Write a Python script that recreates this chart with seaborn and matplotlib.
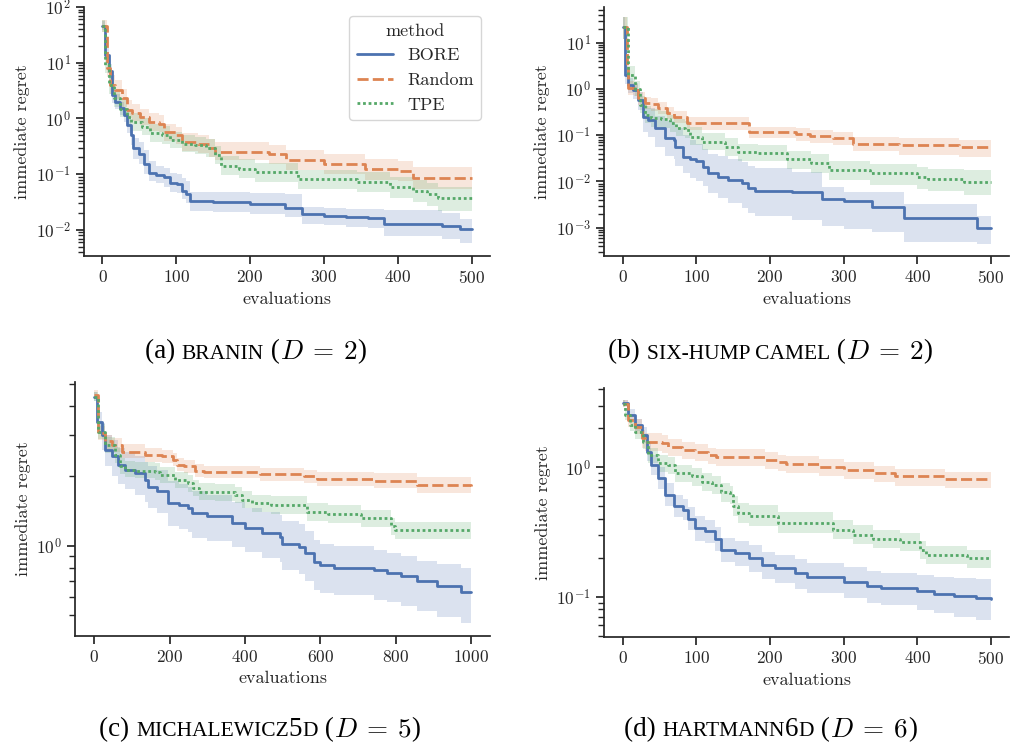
import numpy as np
import pandas as pd
import matplotlib
matplotlib.use("Agg")
import matplotlib.pyplot as plt
import seaborn as sns
from matplotlib.ticker import NullFormatter
from matplotlib.offsetbox import TextArea, HPacker, AnnotationBbox

METHODS = ["BORE", "Random", "TPE"]

# ---- (a) Branin ----
a_bore_x = [0, 4, 8.6, 13, 17.6, 24, 29, 33, 38, 42, 49, 56, 63, 72, 83, 92, 101, 108, 113, 118, 150, 200, 247, 270, 300, 330, 360, 382, 460, 484, 500]
a_bore_y = [45, 14, 7.0, 2.6, 2.0, 1.52, 1.15, 0.76, 0.50, 0.29, 0.23, 0.153, 0.105, 0.095, 0.089, 0.069, 0.067, 0.050, 0.044, 0.033, 0.032, 0.029, 0.0245, 0.019, 0.018, 0.017, 0.0164, 0.013, 0.0116, 0.0104, 0.0104]
a_bore_lo = [38, 11, 5, 1.9, 1.5, 1.15, 0.85, 0.55, 0.33, 0.19, 0.15, 0.10, 0.075, 0.068, 0.06, 0.048, 0.045, 0.036, 0.031, 0.022, 0.021, 0.019, 0.017, 0.0125, 0.012, 0.0115, 0.011, 0.0078, 0.007, 0.0058, 0.0058]
a_bore_hi = [55, 18, 9.5, 3.6, 2.7, 2.0, 1.5, 1.05, 0.72, 0.45, 0.38, 0.27, 0.17, 0.14, 0.13, 0.105, 0.10, 0.085, 0.075, 0.048, 0.047, 0.046, 0.044, 0.026, 0.025, 0.024, 0.0235, 0.023, 0.02, 0.016, 0.016]

a_rand_x = [0, 6.4, 10.8, 17.6, 26.6, 33.4, 40, 51.5, 62.8, 76, 83, 99, 108, 130, 144, 153, 225, 248, 300, 355, 400, 420, 500]
a_rand_y = [45, 8, 4, 3.2, 2.3, 1.4, 1.23, 1.07, 0.87, 0.81, 0.56, 0.50, 0.38, 0.35, 0.29, 0.255, 0.23, 0.18, 0.153, 0.125, 0.116, 0.085, 0.085]
a_rand_lo = [35, 5.5, 2.8, 2.2, 1.6, 1.0, 0.9, 0.75, 0.6, 0.57, 0.4, 0.35, 0.26, 0.24, 0.2, 0.18, 0.155, 0.12, 0.1, 0.08, 0.075, 0.054, 0.054]
a_rand_hi = [58, 12, 6, 4.8, 3.4, 2.1, 1.8, 1.5, 1.25, 1.15, 0.8, 0.7, 0.55, 0.5, 0.42, 0.38, 0.34, 0.27, 0.23, 0.19, 0.175, 0.133, 0.133]

a_tpe_x = [0, 4, 8.6, 15, 24, 33.4, 38, 53.8, 65, 81, 92, 108, 126, 140, 153, 160, 185, 207, 265, 345, 390, 420, 440, 455, 500]
a_tpe_y = [45, 9.2, 4, 2.3, 1.5, 1.07, 0.87, 0.71, 0.54, 0.50, 0.41, 0.35, 0.33, 0.29, 0.22, 0.14, 0.125, 0.108, 0.082, 0.073, 0.058, 0.050, 0.044, 0.037, 0.037]
a_tpe_lo = [35, 6.5, 2.8, 1.6, 1.05, 0.75, 0.6, 0.5, 0.38, 0.35, 0.29, 0.25, 0.23, 0.2, 0.15, 0.095, 0.085, 0.072, 0.055, 0.048, 0.037, 0.032, 0.027, 0.022, 0.022]
a_tpe_hi = [58, 13, 5.8, 3.3, 2.1, 1.5, 1.25, 1.0, 0.78, 0.72, 0.58, 0.5, 0.47, 0.42, 0.32, 0.21, 0.185, 0.16, 0.12, 0.108, 0.088, 0.077, 0.068, 0.058, 0.058]

# ---- (b) Six-hump camel ----
b_bore_x = [0, 3, 7.6, 14, 21, 28, 35, 44, 57, 69, 71, 82, 91, 100, 109, 116, 130, 143, 162, 170, 180, 230, 270, 300, 338, 382, 481, 500]
b_bore_y = [22, 2.0, 1.2, 0.95, 0.58, 0.25, 0.21, 0.14, 0.086, 0.079, 0.056, 0.034, 0.030, 0.027, 0.021, 0.015, 0.0126, 0.0107, 0.0091, 0.0071, 0.0062, 0.0059, 0.0042, 0.0037, 0.0028, 0.0016, 0.001, 0.001]
b_bore_lo = [12, 1.3, 0.8, 0.6, 0.35, 0.12, 0.09, 0.055, 0.035, 0.03, 0.022, 0.015, 0.012, 0.01, 0.008, 0.0055, 0.0045, 0.0035, 0.0027, 0.0021, 0.0018, 0.0015, 0.0011, 0.00095, 0.0008, 0.0005, 0.00045, 0.00045]
b_bore_hi = [35, 3.2, 1.7, 1.35, 0.85, 0.42, 0.38, 0.26, 0.2, 0.18, 0.14, 0.1, 0.08, 0.066, 0.05, 0.04, 0.035, 0.03, 0.026, 0.022, 0.02, 0.016, 0.0075, 0.006, 0.006, 0.0032, 0.0018, 0.0018]

b_rand_x = [0, 5.4, 7.6, 16, 21, 30, 38, 48, 60, 69, 87, 171, 235, 254, 285, 313, 375, 456, 500]
b_rand_y = [22, 3.3, 1.03, 0.95, 0.63, 0.50, 0.47, 0.38, 0.30, 0.25, 0.18, 0.115, 0.104, 0.096, 0.086, 0.066, 0.060, 0.055, 0.055]
b_rand_lo = [12, 2.2, 0.75, 0.7, 0.45, 0.36, 0.34, 0.28, 0.22, 0.18, 0.13, 0.085, 0.075, 0.068, 0.06, 0.045, 0.038, 0.033, 0.033]
b_rand_hi = [35, 5, 1.5, 1.3, 0.85, 0.68, 0.64, 0.52, 0.4, 0.34, 0.25, 0.15, 0.14, 0.13, 0.12, 0.09, 0.085, 0.079, 0.079]

b_tpe_x = [0, 7.6, 16.7, 23.5, 30, 39, 52, 64, 73, 85, 91, 107, 139, 157, 184, 223, 256, 280, 336, 399, 414, 463, 500]
b_tpe_y = [22, 2.0, 1.0, 0.45, 0.27, 0.23, 0.22, 0.18, 0.145, 0.13, 0.093, 0.072, 0.056, 0.044, 0.041, 0.030, 0.025, 0.018, 0.015, 0.0126, 0.0115, 0.0097, 0.0097]
b_tpe_lo = [12, 1.3, 0.7, 0.3, 0.18, 0.15, 0.14, 0.12, 0.095, 0.085, 0.06, 0.048, 0.036, 0.028, 0.027, 0.019, 0.015, 0.011, 0.0085, 0.007, 0.0062, 0.005, 0.005]
b_tpe_hi = [35, 3.2, 1.5, 0.7, 0.42, 0.36, 0.34, 0.27, 0.22, 0.2, 0.15, 0.11, 0.085, 0.066, 0.062, 0.046, 0.04, 0.028, 0.024, 0.021, 0.019, 0.018, 0.018]

# ---- (c) Michalewicz5D ----
c_bore_x = [0, 7, 20, 29, 47, 64, 82, 109, 135, 144, 166, 197, 224, 250, 259, 299, 365, 400, 445, 493, 498, 543, 560, 583, 600, 636, 742, 777, 813, 857, 910, 972, 1000]
c_bore_y = [4.4, 3.44, 3.01, 2.6, 2.43, 2.23, 2.13, 2.06, 1.92, 1.80, 1.72, 1.53, 1.49, 1.45, 1.38, 1.34, 1.25, 1.19, 1.13, 1.09, 1.02, 0.99, 0.93, 0.85, 0.82, 0.80, 0.78, 0.76, 0.74, 0.70, 0.67, 0.63, 0.63]
c_bore_lo = [4.2, 3.1, 2.6, 2.2, 2.0, 1.85, 1.75, 1.65, 1.55, 1.45, 1.38, 1.22, 1.18, 1.14, 1.08, 1.05, 0.99, 0.94, 0.88, 0.85, 0.78, 0.75, 0.70, 0.64, 0.62, 0.61, 0.58, 0.57, 0.55, 0.52, 0.49, 0.46, 0.46]
c_bore_hi = [4.6, 3.8, 3.4, 3.0, 2.85, 2.65, 2.55, 2.45, 2.3, 2.2, 2.12, 1.9, 1.85, 1.8, 1.72, 1.65, 1.55, 1.45, 1.4, 1.36, 1.28, 1.24, 1.15, 1.06, 1.02, 1.0, 0.96, 0.93, 0.9, 0.86, 0.83, 0.80, 0.80]

c_rand_x = [0, 11, 29, 47, 73, 135, 179, 210, 219, 237, 268, 290, 441, 556, 591, 742, 857, 1000]
c_rand_y = [4.5, 3.07, 2.82, 2.73, 2.55, 2.47, 2.43, 2.35, 2.24, 2.20, 2.11, 2.08, 2.03, 1.99, 1.94, 1.91, 1.83, 1.81]
c_rand_lo = [4.3, 2.85, 2.62, 2.54, 2.38, 2.3, 2.27, 2.2, 2.1, 2.06, 1.98, 1.96, 1.9, 1.86, 1.81, 1.77, 1.69, 1.67]
c_rand_hi = [4.7, 3.3, 3.02, 2.93, 2.74, 2.65, 2.6, 2.52, 2.4, 2.35, 2.25, 2.21, 2.17, 2.13, 2.08, 2.05, 1.97, 1.96]

c_tpe_x = [0, 11, 29, 56, 69, 82, 109, 162, 175, 215, 250, 263, 277, 320, 374, 392, 418, 468, 565, 621, 707, 787, 797, 1000]
c_tpe_y = [4.4, 3.1, 2.73, 2.47, 2.20, 2.13, 2.11, 2.09, 2.02, 1.92, 1.86, 1.77, 1.71, 1.70, 1.66, 1.58, 1.53, 1.50, 1.40, 1.37, 1.31, 1.21, 1.17, 1.17]
c_tpe_lo = [4.2, 2.9, 2.52, 2.28, 2.03, 1.97, 1.95, 1.93, 1.86, 1.77, 1.71, 1.63, 1.57, 1.56, 1.52, 1.45, 1.4, 1.37, 1.28, 1.25, 1.2, 1.11, 1.07, 1.07]
c_tpe_hi = [4.6, 3.35, 2.96, 2.68, 2.39, 2.31, 2.29, 2.27, 2.19, 2.08, 2.02, 1.92, 1.86, 1.85, 1.8, 1.72, 1.66, 1.63, 1.52, 1.49, 1.42, 1.31, 1.27, 1.27]

# ---- (d) Hartmann6D ----
d_bore_x = [0, 7.6, 16.7, 25.8, 32.6, 39, 48, 57, 69, 82, 89, 98, 112, 125, 134, 152, 171, 189, 207, 234, 250, 300, 331, 350, 400, 423, 450, 480, 500]
d_bore_y = [3.13, 2.54, 2.12, 1.78, 1.32, 1.04, 0.82, 0.61, 0.50, 0.47, 0.40, 0.34, 0.32, 0.28, 0.23, 0.216, 0.20, 0.175, 0.166, 0.151, 0.141, 0.13, 0.121, 0.116, 0.111, 0.105, 0.101, 0.098, 0.095]
d_bore_lo = [2.95, 2.3, 1.9, 1.55, 1.12, 0.87, 0.68, 0.5, 0.41, 0.39, 0.33, 0.27, 0.26, 0.225, 0.185, 0.172, 0.155, 0.137, 0.128, 0.115, 0.107, 0.098, 0.09, 0.086, 0.079, 0.074, 0.07, 0.066, 0.062]
d_bore_hi = [3.3, 2.8, 2.35, 2.05, 1.55, 1.25, 1.0, 0.75, 0.61, 0.57, 0.49, 0.42, 0.39, 0.345, 0.285, 0.27, 0.25, 0.22, 0.21, 0.195, 0.183, 0.168, 0.158, 0.153, 0.146, 0.141, 0.138, 0.136, 0.134]

d_rand_x = [0, 7.6, 16.7, 25.8, 30, 53, 62, 80, 98, 116, 126, 193, 211, 222, 267, 300, 341, 369, 437, 500]
d_rand_y = [3.1, 2.32, 2.06, 1.68, 1.58, 1.53, 1.44, 1.36, 1.31, 1.24, 1.21, 1.14, 1.09, 1.06, 1.0, 0.95, 0.90, 0.85, 0.81, 0.81]
d_rand_lo = [2.9, 2.05, 1.8, 1.42, 1.33, 1.3, 1.23, 1.16, 1.12, 1.06, 1.03, 0.97, 0.93, 0.9, 0.85, 0.81, 0.77, 0.72, 0.69, 0.69]
d_rand_hi = [3.3, 2.6, 2.35, 1.95, 1.83, 1.77, 1.66, 1.57, 1.5, 1.42, 1.39, 1.31, 1.25, 1.22, 1.15, 1.09, 1.03, 0.97, 0.92, 0.92]

d_tpe_x = [0, 3, 10, 17, 28, 35, 48, 62, 71, 94, 107, 121, 134, 146, 150, 157, 171, 211, 285, 312, 340, 376, 403, 412, 467, 500]
d_tpe_y = [3.1, 2.54, 2.12, 1.88, 1.58, 1.24, 1.07, 1.04, 0.90, 0.85, 0.77, 0.73, 0.64, 0.61, 0.50, 0.44, 0.42, 0.37, 0.33, 0.30, 0.28, 0.266, 0.23, 0.21, 0.198, 0.198]
d_tpe_lo = [2.9, 2.3, 1.9, 1.65, 1.38, 1.07, 0.92, 0.89, 0.77, 0.72, 0.65, 0.62, 0.54, 0.52, 0.42, 0.37, 0.35, 0.31, 0.28, 0.255, 0.237, 0.225, 0.195, 0.178, 0.166, 0.166]
d_tpe_hi = [3.3, 2.8, 2.35, 2.12, 1.8, 1.42, 1.24, 1.2, 1.05, 0.99, 0.9, 0.86, 0.76, 0.72, 0.6, 0.53, 0.51, 0.45, 0.39, 0.355, 0.33, 0.31, 0.27, 0.245, 0.23, 0.23]

# captions: (label, small-caps name pieces, D)
cap_labels = ["(a) ", "(b) ", "(c) ", "(d) "]
cap_names = [["BRANIN"], ["SIX-HUMP CAMEL"], ["MICHALEWICZ", "5", "D"], ["HARTMANN", "6", "D"]]
cap_dims = [2, 2, 5, 6]

sns.set_theme(style="ticks", palette="deep")
plt.rcParams.update({
    "font.family": "serif",
    "font.serif": ["cmr10"],
    "mathtext.fontset": "cm",
    "axes.formatter.use_mathtext": True,
    "axes.unicode_minus": False,
    "xtick.labelsize": 12.5,
    "ytick.labelsize": 12.5,
    "axes.labelsize": 13,
    "legend.fontsize": 13,
    "legend.title_fontsize": 13,
    "lines.linewidth": 2.0,
})
colors = sns.color_palette("deep", 3)

fig = plt.figure(figsize=(10.11, 7.49), dpi=100)
# [left, bottom, width, height] in figure fraction
ax_a = fig.add_axes([0.0831, 0.6582, 0.4016, 0.3325])
ax_b = fig.add_axes([0.5977, 0.6582, 0.4008, 0.3325])
ax_c = fig.add_axes([0.0745, 0.1509, 0.4102, 0.3391])
ax_d = fig.add_axes([0.5977, 0.1500, 0.4008, 0.3316])


def draw_panel(ax, series, ylim, legend=False):
    frames = []
    for m, (xs, ys, lo, hi) in zip(METHODS, series):
        frames.append(pd.DataFrame({"evaluations": xs, "regret": ys, "method": m}))
    df = pd.concat(frames, ignore_index=True)
    for c, (xs, ys, lo, hi) in zip(colors, series):
        ax.fill_between(xs, lo, hi, step="post", color=c, alpha=0.2, linewidth=0)
    sns.lineplot(data=df, x="evaluations", y="regret", hue="method", style="method",
                 hue_order=METHODS, style_order=METHODS, errorbar=None,
                 drawstyle="steps-post", linewidth=2.0, ax=ax, legend=legend)
    ax.set_yscale("log")
    ax.set_ylim(*ylim)
    ax.set_ylabel("immediate regret")
    ax.yaxis.set_minor_formatter(NullFormatter())
    if legend:
        sns.move_legend(ax, "upper right", frameon=True)


draw_panel(ax_a, [(a_bore_x, a_bore_y, a_bore_lo, a_bore_hi),
                  (a_rand_x, a_rand_y, a_rand_lo, a_rand_hi),
                  (a_tpe_x, a_tpe_y, a_tpe_lo, a_tpe_hi)], (0.0034, 100), legend=True)
draw_panel(ax_b, [(b_bore_x, b_bore_y, b_bore_lo, b_bore_hi),
                  (b_rand_x, b_rand_y, b_rand_lo, b_rand_hi),
                  (b_tpe_x, b_tpe_y, b_tpe_lo, b_tpe_hi)], (0.000245, 58.9))
draw_panel(ax_c, [(c_bore_x, c_bore_y, c_bore_lo, c_bore_hi),
                  (c_rand_x, c_rand_y, c_rand_lo, c_rand_hi),
                  (c_tpe_x, c_tpe_y, c_tpe_lo, c_tpe_hi)], (0.406, 5.1))
draw_panel(ax_d, [(d_bore_x, d_bore_y, d_bore_lo, d_bore_hi),
                  (d_rand_x, d_rand_y, d_rand_lo, d_rand_hi),
                  (d_tpe_x, d_tpe_y, d_tpe_lo, d_tpe_hi)], (0.049, 4.08))

for ax in (ax_a, ax_b, ax_d):
    ax.set_xlim(-25, 525)
ax_c.set_xlim(-50, 1050)
sns.despine(fig)

# sub-captions, small caps imitated with a smaller font size
big = dict(fontfamily="Liberation Serif", fontsize=19.5, color="black")
small = dict(fontfamily="Liberation Serif", fontsize=15.5, color="black")
cap_pos = [(0.253, 0.530), (0.762, 0.530), (0.257, 0.0254), (0.762, 0.0254)]
for lab, name, dim, pos in zip(cap_labels, cap_names, cap_dims, cap_pos):
    parts = [TextArea(lab, textprops=big)]
    for piece in name:
        parts.append(TextArea(piece, textprops=big if piece.isdigit() else small))
    parts.append(TextArea(" (", textprops=big))
    parts.append(TextArea(rf"$D\:=\:{dim}$", textprops=big))
    parts.append(TextArea(")", textprops=big))
    box = HPacker(children=parts, align="baseline", pad=0, sep=0)
    ab = AnnotationBbox(box, pos, xycoords="figure fraction", frameon=False,
                        box_alignment=(0.5, 0.5))
    fig.add_artist(ab)

fig.savefig("out.png", dpi=100)
